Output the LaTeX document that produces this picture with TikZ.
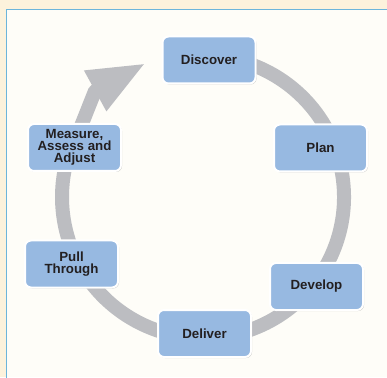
\documentclass[tikz,border=0pt]{standalone}
\usepackage{fontspec}
\setmainfont{Liberation Sans}
\usepackage{tikz}
\usetikzlibrary{
    arrows.meta,
    shadows
}
\definecolor{PanelCream}{HTML}{FCF2DC}
\definecolor{PanelWhite}{HTML}{FEFDF8}
\definecolor{PanelBlue}{HTML}{6CB5DB}
\definecolor{StageBlue}{HTML}{97B9E1}
\definecolor{CycleGray}{HTML}{BCBDC1}
\definecolor{StageText}{HTML}{231F20}
\tikzset{
    stage/.style={
        font=\fontsize{13.3}{12}\selectfont\bfseries,
        rectangle,
        rounded corners=6pt,
        minimum width=93pt,
        minimum height=47pt,
        align=center,
        text=StageText,
        fill=StageBlue,
        draw=white,
        line width=2pt,
        drop shadow={shadow xshift=1pt,shadow yshift=-1pt,opacity=0.3,fill=black!70},
    },
    cyclearrow/.style={
        draw=CycleGray,
        line width=14pt,
        line join=round,
        -{Triangle[length=58pt,width=42pt]},
    },
}

\begin{document}
\begin{tikzpicture}[x=1pt,y=1pt]
    \useasboundingbox (0,0) rectangle (387,377);

    % page strip and framed panel
    \fill[PanelCream] (0,0) rectangle (387,377);
    \fill[PanelWhite] (6.5,0) rectangle (387,367.5);
    \draw[PanelBlue,line width=1.2pt] (6.5,-1) |- (388,367.5);

    \coordinate (ring) at (203,180);
    \coordinate (headbase) at (95,286);
    \coordinate (headtip) at (146,314);

    % the cycle, clockwise from the top
    \draw[cyclearrow] ([shift={(95:141pt)}]ring) arc[start angle=95,end angle=-210,radius=141pt]
        -- (headbase) -- (headtip);

    \node[stage] (discover) at (209,317) {Discover};
    \node[stage] (plan) at (320.5,229) {Plan};
    \node[stage] (develop) at (316.5,90.5) {Develop};
    \node[stage] (deliver) at (204.5,43.5) {Deliver};
    \node[stage] (pull) at (71.5,113) {Pull\\Through};
    \node[stage] (measure) at (74.5,229.5) {Measure,\\Assess and\\Adjust};
\end{tikzpicture}
\end{document}
